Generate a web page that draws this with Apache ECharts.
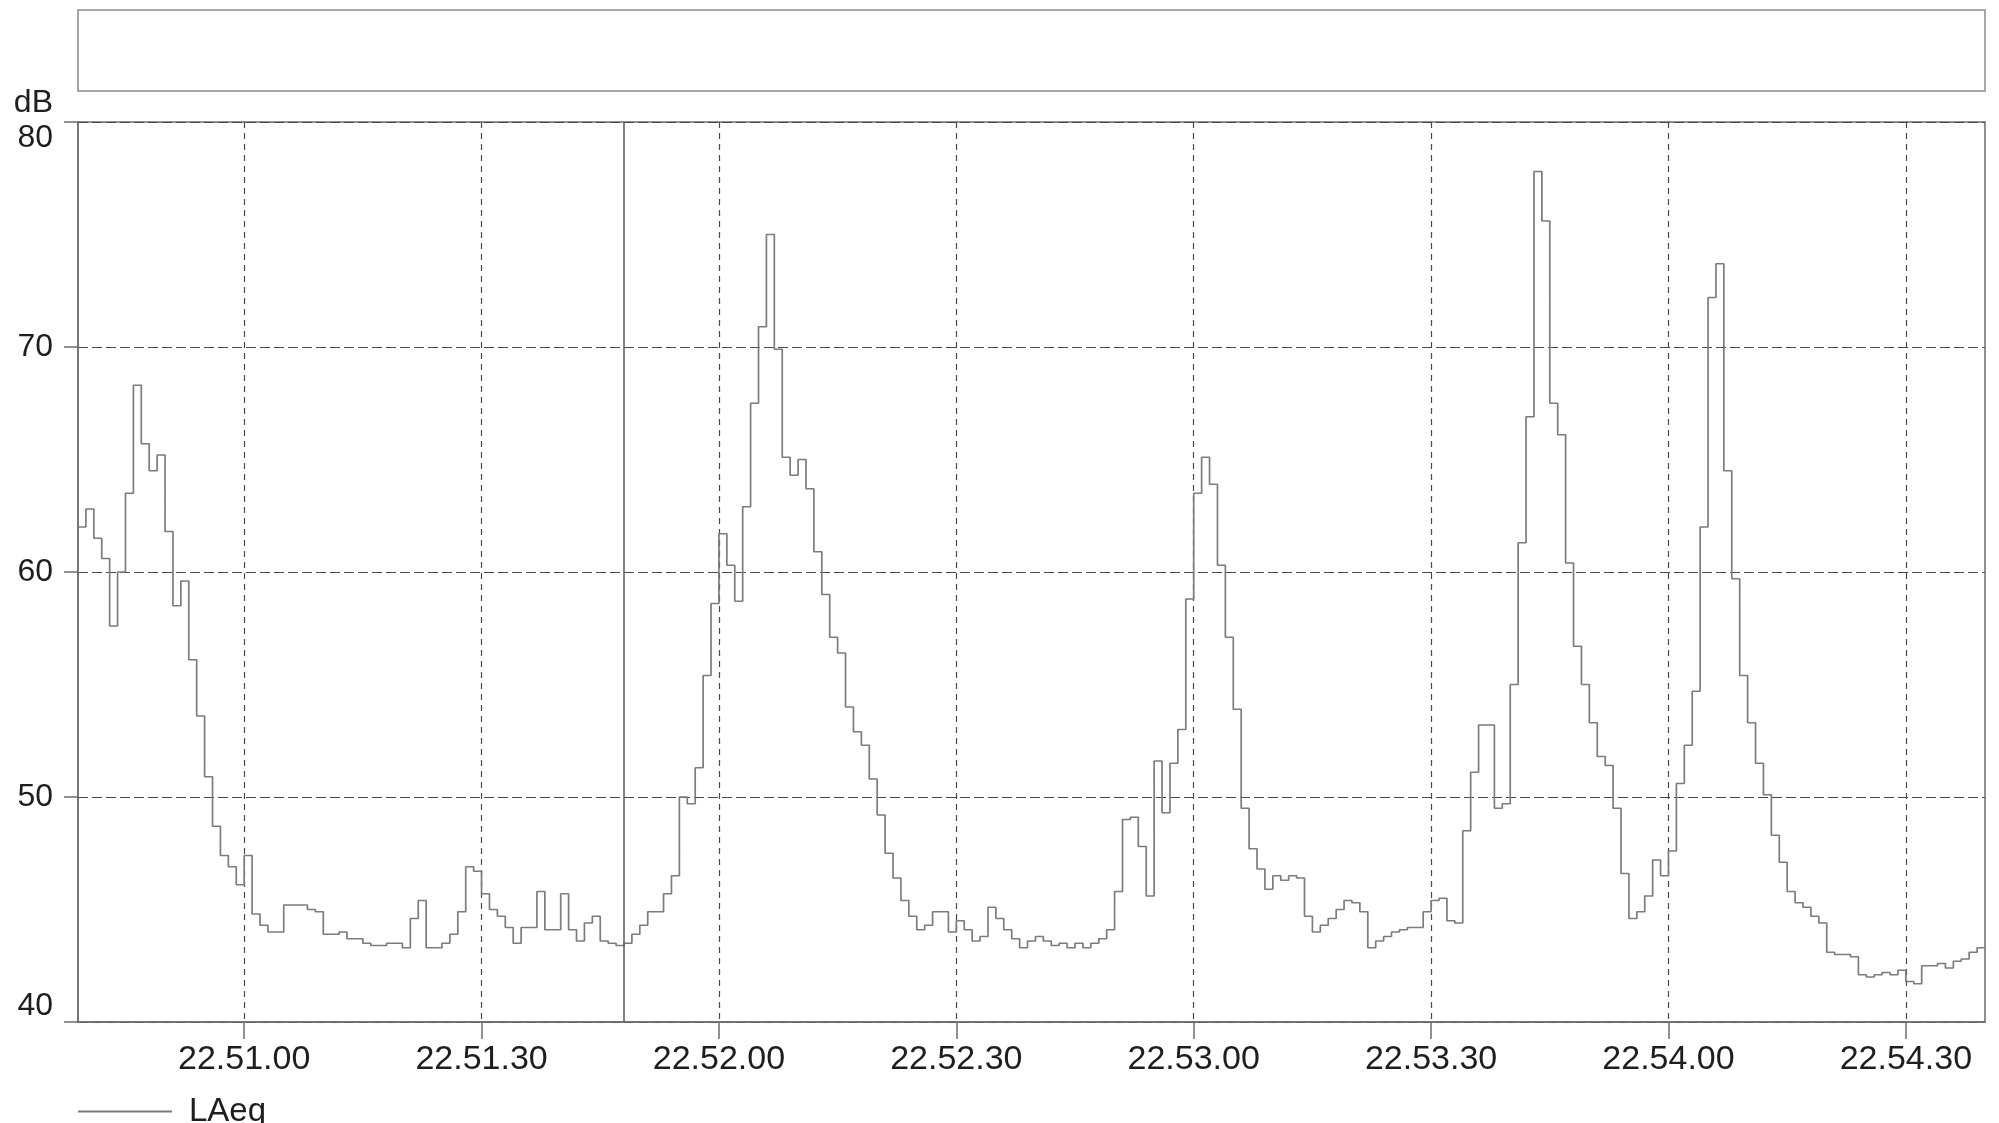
<!DOCTYPE html>
<html>
<head>
<meta charset="utf-8">
<script src="https://cdn.jsdelivr.net/npm/echarts@6/dist/echarts.min.js"></script>
<style>
  html, body { margin: 0; padding: 0; background: #ffffff; }
  #chart { width: 1999px; height: 1123px; }
</style>
</head>
<body>
<div id="chart"></div>
<script>
// Logging start (hh, mm, ss); one LAeq reading per second from here on
const startTime = [22, 50, 39];

// LAeq, dB, one value per second starting at 22.50.39
const laeq = [
  62.0, 62.8, 61.5, 60.6, 57.6, 60.0, 63.5, 68.3, 65.7, 64.5,
  65.2, 61.8, 58.5, 59.6, 56.1, 53.6, 50.9, 48.7, 47.4, 46.9,
  46.1, 47.4, 44.8, 44.3, 44.0, 44.0, 45.2, 45.2, 45.2, 45.0,
  44.9, 43.9, 43.9, 44.0, 43.7, 43.7, 43.5, 43.4, 43.4, 43.5,
  43.5, 43.3, 44.6, 45.4, 43.3, 43.3, 43.5, 43.9, 44.9, 46.9,
  46.7, 45.7, 45.0, 44.7, 44.2, 43.5, 44.2, 44.2, 45.8, 44.1,
  44.1, 45.7, 44.1, 43.6, 44.4, 44.7, 43.6, 43.5, 43.4, 43.5,
  43.9, 44.3, 44.9, 44.9, 45.7, 46.5, 50.0, 49.7, 51.3, 55.4,
  58.6, 61.7, 60.3, 58.7, 62.9, 67.5, 70.9, 75.0, 69.9, 65.1,
  64.3, 65.0, 63.7, 60.9, 59.0, 57.1, 56.4, 54.0, 52.9, 52.3,
  50.8, 49.2, 47.5, 46.4, 45.4, 44.7, 44.1, 44.3, 44.9, 44.9,
  44.0, 44.5, 44.1, 43.6, 43.8, 45.1, 44.6, 44.1, 43.7, 43.3,
  43.6, 43.8, 43.6, 43.4, 43.5, 43.3, 43.5, 43.3, 43.5, 43.7,
  44.1, 45.8, 49.0, 49.1, 47.8, 45.6, 51.6, 49.3, 51.5, 53.0,
  58.8, 63.5, 65.1, 63.9, 60.3, 57.1, 53.9, 49.5, 47.7, 46.8,
  45.9, 46.5, 46.3, 46.5, 46.4, 44.7, 44.0, 44.3, 44.6, 45.0,
  45.4, 45.3, 44.9, 43.3, 43.6, 43.8, 44.0, 44.1, 44.2, 44.2,
  44.9, 45.4, 45.5, 44.5, 44.4, 48.5, 51.1, 53.2, 53.2, 49.5,
  49.7, 55.0, 61.3, 66.9, 77.8, 75.6, 67.5, 66.1, 60.4, 56.7,
  55.0, 53.3, 51.8, 51.4, 49.5, 46.6, 44.6, 44.9, 45.6, 47.2,
  46.5, 47.6, 50.6, 52.3, 54.7, 62.0, 72.2, 73.7, 64.5, 59.7,
  55.4, 53.3, 51.5, 50.1, 48.3, 47.1, 45.8, 45.3, 45.1, 44.7,
  44.4, 43.1, 43.0, 43.0, 42.9, 42.1, 42.0, 42.1, 42.2, 42.1,
  42.3, 41.8, 41.7, 42.5, 42.5, 42.6, 42.4, 42.7, 42.8, 43.1,
  43.3
];

// Y scale (dB) and time-label spacing (seconds)
const yTicks = [40, 50, 60, 70, 80];
const labelStepSeconds = 30;
// Cursor position on the time axis
const cursorTime = '22.51.48';

const pad = n => String(n).padStart(2, '0');
const startSec = startTime[0] * 3600 + startTime[1] * 60 + startTime[2];

// One category per second boundary; the extra last one closes the final second
const times = [];
for (let i = 0; i <= laeq.length; i++) {
  const s = startSec + i;
  times.push(pad(Math.floor(s / 3600)) + '.' + pad(Math.floor(s / 60) % 60) + '.' + pad(s % 60));
}
const onLabel = (index) => (startSec + index) % labelStepSeconds === 0;

// The last reading also ends its own one-second step at the right edge
const stepData = laeq.concat([laeq[laeq.length - 1]]);

const FONT = '"Liberation Sans", Arial, Helvetica, sans-serif';
const LINE_GREY = '#7c7c7c';

const chart = echarts.init(document.getElementById('chart'), null, { renderer: 'canvas' });

chart.setOption({
  animation: false,
  backgroundColor: '#ffffff',
  textStyle: { fontFamily: FONT },
  grid: [
    {
      left: 78, right: 14, top: 122, bottom: 101,
      show: true, borderColor: '#6e6e6e', borderWidth: 1.5, backgroundColor: 'transparent'
    },
    {
      left: 78, right: 14, top: 10, height: 81,
      show: true, borderColor: '#8a8a8a', borderWidth: 1.5, backgroundColor: 'transparent'
    }
  ],
  legend: {
    left: 73,
    top: 1090,
    icon: 'rect',
    itemWidth: 94,
    itemHeight: 2,
    data: ['LAeq'],
    textStyle: { fontFamily: FONT, fontSize: 33, color: '#1e1e1e', padding: [0, 0, 0, 12] }
  },
  xAxis: [
    {
      type: 'category',
      gridIndex: 0,
      data: times,
      boundaryGap: false,
      axisLine: { show: true, lineStyle: { color: '#6e6e6e', width: 1.5 } },
      axisTick: { show: true, interval: onLabel, length: 17, lineStyle: { color: '#6e6e6e', width: 1.5 } },
      axisLabel: {
        show: true, interval: onLabel,
        margin: 21, fontSize: 34, color: '#1e1e1e', fontFamily: FONT
      },
      splitLine: { show: true, interval: onLabel, lineStyle: { color: '#4a4a4a', width: 1.2, type: [6, 5] } }
    },
    { type: 'value', gridIndex: 1, show: false, min: 0, max: 1 }
  ],
  yAxis: [
    {
      type: 'value',
      gridIndex: 0,
      min: yTicks[0],
      max: yTicks[yTicks.length - 1],
      interval: yTicks[1] - yTicks[0],
      name: 'dB',
      nameLocation: 'end',
      nameGap: 3,
      nameTextStyle: { fontFamily: FONT, fontSize: 32, color: '#1e1e1e', align: 'right', verticalAlign: 'bottom', padding: [0, 25, 0, 0] },
      axisLine: { show: true, lineStyle: { color: '#6e6e6e', width: 1.5 } },
      axisTick: { show: true, length: 14, lineStyle: { color: '#6e6e6e', width: 1.5 } },
      axisLabel: {
        margin: 25, fontSize: 32, color: '#1e1e1e', fontFamily: FONT,
        verticalAlignMaxLabel: 'top', verticalAlignMinLabel: 'bottom'
      },
      splitLine: { show: true, lineStyle: { color: '#4a4a4a', width: 1.2, type: [10, 4] } }
    },
    { type: 'value', gridIndex: 1, show: false, min: 0, max: 1 }
  ],
  series: [
    {
      name: 'LAeq',
      type: 'line',
      xAxisIndex: 0,
      yAxisIndex: 0,
      data: stepData,
      step: 'end',
      symbol: 'none',
      showSymbol: false,
      lineStyle: { color: LINE_GREY, width: 1.7 },
      itemStyle: { color: LINE_GREY },
      markLine: {
        silent: true,
        symbol: ['none', 'none'],
        label: { show: false },
        lineStyle: { color: '#5a5a5a', width: 1.5, type: 'solid' },
        data: [{ xAxis: cursorTime }]
      }
    }
  ]
});
</script>
</body>
</html>
